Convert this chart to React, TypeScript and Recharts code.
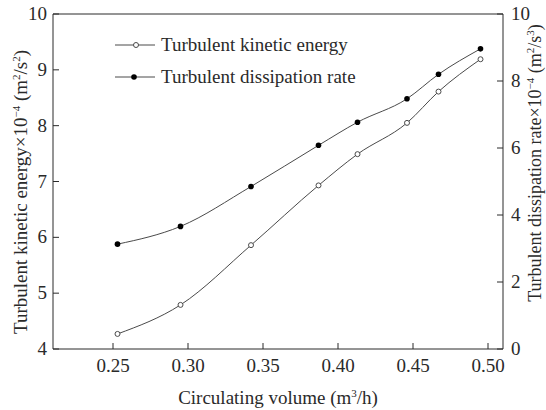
import React from "react";
import { ComposedChart, Line, XAxis, YAxis, ReferenceLine, Legend } from "recharts";

const volume = [0.253, 0.295, 0.342, 0.387, 0.413, 0.446, 0.467, 0.495];
const kineticEnergy = [4.27, 4.79, 5.86, 6.93, 7.49, 8.05, 8.61, 9.19];
const dissipationRate = [3.13, 3.66, 4.85, 6.08, 6.77, 7.47, 8.2, 8.96];

const xTicks = [0.25, 0.3, 0.35, 0.4, 0.45, 0.5];
const leftTicks = [4, 5, 6, 7, 8, 9, 10];
const rightTicks = [0, 2, 4, 6, 8, 10];
const seriesOrder = ["k", "d"];

const FONT = "'Liberation Serif', 'Times New Roman', serif";
const INK = "#2a2a2a";
const LINE = "#4a4a4a";

const data = volume.map((v, i) => ({
  v,
  k: kineticEnergy[i],
  d: dissipationRate[i],
}));

const XTick = (props: any) => {
  const { x, y, payload } = props;
  return (
    <g>
      <line x1={x} x2={x} y1={y} y2={y - 6} stroke={INK} />
      <text x={x} y={y + 23} textAnchor="middle" fontFamily={FONT} fontSize={19} fill={INK}>
        {Number(payload.value).toFixed(2)}
      </text>
    </g>
  );
};

const LeftTick = (props: any) => {
  const { x, y, payload } = props;
  return (
    <g>
      <line x1={x} x2={x + 6} y1={y} y2={y} stroke={INK} />
      <text x={x - 6} y={y + 6} textAnchor="end" fontFamily={FONT} fontSize={19} fill={INK}>
        {payload.value}
      </text>
    </g>
  );
};

const RightTick = (props: any) => {
  const { x, y, payload } = props;
  return (
    <g>
      <line x1={x - 6} x2={x} y1={y} y2={y} stroke={INK} />
      <text x={x + 8} y={y + 6} textAnchor="start" fontFamily={FONT} fontSize={19} fill={INK}>
        {payload.value}
      </text>
    </g>
  );
};

const Sup = ({ children }: { children: React.ReactNode }) => (
  <tspan dy={-7} fontSize={11}>
    {children}
  </tspan>
);

const LeftTitle = () => (
  <text transform="translate(27,192) rotate(-90)" textAnchor="middle" fontFamily={FONT} fontSize={19} fill={INK}>
    Turbulent kinetic energy×10<Sup>−4</Sup>
    <tspan dy={7}> (m</tspan>
    <Sup>2</Sup>
    <tspan dy={7}>/s</tspan>
    <Sup>2</Sup>
    <tspan dy={7}>)</tspan>
  </text>
);

const RightTitle = () => (
  <text transform="translate(541,163) rotate(-90)" textAnchor="middle" fontFamily={FONT} fontSize={18} fill={INK}>
    Turbulent dissipation rate×10<Sup>−4</Sup>
    <tspan dy={7}> (m</tspan>
    <Sup>2</Sup>
    <tspan dy={7}>/s</tspan>
    <Sup>3</Sup>
    <tspan dy={7}>)</tspan>
  </text>
);

const XTitle = () => (
  <text x={278} y={404} textAnchor="middle" fontFamily={FONT} fontSize={19} fill={INK}>
    Circulating volume (m<Sup>3</Sup>
    <tspan dy={7}>/h)</tspan>
  </text>
);

const renderLegend = (props: any) => {
  const items = [...props.payload].sort(
    (a: any, b: any) => seriesOrder.indexOf(a.dataKey) - seriesOrder.indexOf(b.dataKey)
  );
  return (
    <div style={{ fontFamily: FONT, fontSize: 19, color: INK, whiteSpace: "nowrap" }}>
      {items.map((item: any) => (
        <div key={item.value} style={{ display: "flex", alignItems: "center", height: 32 }}>
          <svg width={44} height={10} style={{ marginRight: 2 }}>
            <line x1={0} x2={40} y1={5} y2={5} stroke={LINE} />
            {item.dataKey === "k" ? (
              <circle cx={21} cy={5} r={2.5} fill="#fff" stroke={LINE} />
            ) : (
              <circle cx={19} cy={5} r={2.8} fill="#000" />
            )}
          </svg>
          <span>{item.value}</span>
        </div>
      ))}
    </div>
  );
};

export default function App() {
  return (
    <div style={{ position: "absolute", left: 0, top: 0 }}>
      <ComposedChart
        width={546}
        height={410}
        data={data}
        margin={{ top: 14, right: 0, bottom: 0, left: 0 }}
      >
        <XAxis
          dataKey="v"
          type="number"
          domain={[0.21, 0.51]}
          ticks={xTicks}
          allowDataOverflow
          height={61}
          tickSize={0}
          tickMargin={0}
          tickLine={false}
          tick={<XTick />}
          axisLine={{ stroke: INK }}
          label={<XTitle />}
        />
        <YAxis
          yAxisId="left"
          domain={[4, 10]}
          ticks={leftTicks}
          width={53}
          tickSize={0}
          tickMargin={0}
          tickLine={false}
          tick={<LeftTick />}
          axisLine={{ stroke: INK }}
          label={<LeftTitle />}
        />
        <YAxis
          yAxisId="right"
          orientation="right"
          domain={[0, 10]}
          ticks={rightTicks}
          width={43}
          tickSize={0}
          tickMargin={0}
          tickLine={false}
          tick={<RightTick />}
          axisLine={{ stroke: INK }}
          label={<RightTitle />}
        />
        <ReferenceLine yAxisId="left" y={10} stroke={INK} />
        <Legend
          layout="vertical"
          align="center"
          verticalAlign="middle"
          content={renderLegend}
          wrapperStyle={{ left: 115, top: 29, width: "auto" }}
        />
        <Line
          yAxisId="left"
          dataKey="k"
          name="Turbulent kinetic energy"
          type="monotone"
          stroke={LINE}
          strokeWidth={1}
          dot={{ r: 2.5, fill: "#fff", stroke: LINE, strokeWidth: 1 }}
          isAnimationActive={false}
        />
        <Line
          yAxisId="right"
          dataKey="d"
          name="Turbulent dissipation rate"
          type="monotone"
          stroke={LINE}
          strokeWidth={1}
          dot={{ r: 2.8, fill: "#000", stroke: "#000", strokeWidth: 0 }}
          isAnimationActive={false}
        />
      </ComposedChart>
    </div>
  );
}
